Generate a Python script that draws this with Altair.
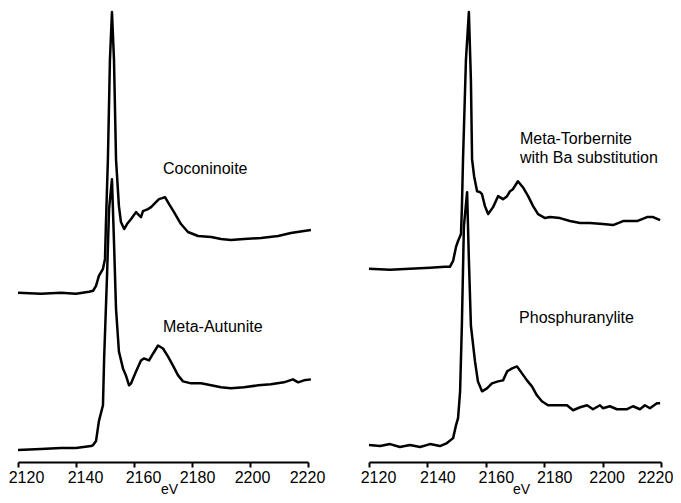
import altair as alt
import pandas as pd

# ---- data (energy in eV, normalized intensity with vertical offset) ----
coconinoite_ev = [2120.0, 2127.9, 2134.8, 2140.0, 2144.5, 2145.9, 2146.9, 2147.9, 2149.3, 2150.0,
                  2150.3, 2151.0, 2151.7, 2152.4, 2153.1, 2153.8, 2154.8, 2155.5, 2156.6, 2157.6,
                  2159.0, 2160.7, 2161.7, 2162.4, 2163.1, 2164.8, 2165.9, 2166.9, 2168.6, 2169.7,
                  2170.7, 2172.1, 2173.8, 2176.2, 2178.6, 2182.1, 2186.6, 2190.0, 2193.4, 2197.9,
                  2203.8, 2209.7, 2214.1, 2218.6, 2221.0]
coconinoite_int = [1.70, 1.69, 1.70, 1.69, 1.71, 1.72, 1.77, 1.87, 1.94, 2.04,
                   2.37, 3.04, 4.04, 4.52, 4.04, 3.04, 2.57, 2.41, 2.34, 2.39,
                   2.44, 2.51, 2.48, 2.46, 2.52, 2.54, 2.56, 2.59, 2.64, 2.65,
                   2.66, 2.59, 2.51, 2.39, 2.31, 2.27, 2.26, 2.24, 2.23, 2.24,
                   2.25, 2.27, 2.30, 2.32, 2.33]

autunite_ev = [2120.0, 2127.9, 2134.8, 2140.0, 2145.2, 2145.9, 2146.9, 2147.9, 2149.3, 2149.7,
               2150.7, 2151.4, 2152.4, 2153.1, 2153.8, 2154.8, 2156.2, 2157.2, 2158.3, 2159.0,
               2160.7, 2162.4, 2163.4, 2165.2, 2166.6, 2168.3, 2170.0, 2171.7, 2173.4, 2175.2,
               2176.9, 2179.7, 2183.1, 2186.6, 2190.0, 2193.4, 2197.9, 2202.8, 2207.2, 2211.7,
               2214.8, 2216.6, 2218.6, 2221.0]
autunite_int = [0.12, 0.13, 0.14, 0.14, 0.16, 0.17, 0.21, 0.41, 0.57, 1.04,
                1.87, 2.54, 2.84, 2.21, 1.54, 1.11, 0.94, 0.87, 0.77, 0.79,
                0.91, 1.02, 1.04, 1.02, 1.09, 1.17, 1.14, 1.06, 0.97, 0.87,
                0.81, 0.79, 0.79, 0.77, 0.75, 0.74, 0.75, 0.77, 0.78, 0.80,
                0.83, 0.80, 0.82, 0.83]

torbernite_ev = [2120.0, 2127.2, 2134.0, 2140.9, 2146.0, 2147.7, 2148.8, 2149.8, 2150.5, 2151.5,
                 2151.8, 2152.2, 2153.2, 2154.2, 2154.9, 2155.3, 2156.0, 2157.0, 2158.0, 2158.7,
                 2159.7, 2160.8, 2162.5, 2164.2, 2165.9, 2167.3, 2168.3, 2169.3, 2171.0, 2172.7,
                 2174.5, 2176.2, 2177.9, 2180.3, 2182.0, 2185.4, 2188.8, 2192.3, 2195.7, 2200.1,
                 2203.6, 2207.0, 2211.8, 2215.2, 2217.3, 2219.7]
torbernite_int = [1.94, 1.93, 1.94, 1.95, 1.96, 1.96, 2.02, 2.16, 2.22, 2.29,
                  2.54, 3.04, 4.04, 4.52, 3.84, 3.04, 2.87, 2.72, 2.71, 2.69,
                  2.57, 2.49, 2.56, 2.67, 2.64, 2.67, 2.72, 2.74, 2.82, 2.76,
                  2.67, 2.57, 2.49, 2.45, 2.46, 2.45, 2.42, 2.40, 2.40, 2.39,
                  2.38, 2.42, 2.42, 2.46, 2.46, 2.43]

phosph_ev = [2120.0, 2123.8, 2127.2, 2130.6, 2134.0, 2137.5, 2140.9, 2144.3, 2146.7, 2148.8,
             2149.8, 2150.5, 2151.2, 2151.8, 2152.5, 2153.6, 2154.2, 2154.9, 2156.3, 2157.3,
             2158.7, 2160.4, 2162.1, 2164.2, 2165.9, 2167.3, 2169.0, 2170.7, 2172.4, 2174.1,
             2175.8, 2177.5, 2179.2, 2181.3, 2184.7, 2187.8, 2189.9, 2192.3, 2194.7, 2196.7,
             2199.1, 2200.1, 2202.5, 2204.9, 2208.4, 2210.4, 2212.8, 2214.5, 2216.2, 2218.6,
             2219.7]
phosph_int = [0.17, 0.16, 0.18, 0.15, 0.17, 0.15, 0.18, 0.16, 0.19, 0.24,
              0.37, 0.44, 0.71, 1.37, 2.37, 2.71, 2.04, 1.37, 1.01, 0.81,
              0.71, 0.74, 0.79, 0.81, 0.82, 0.91, 0.94, 0.96, 0.89, 0.82,
              0.76, 0.67, 0.61, 0.57, 0.57, 0.57, 0.52, 0.55, 0.57, 0.53,
              0.57, 0.54, 0.56, 0.53, 0.53, 0.56, 0.53, 0.57, 0.54, 0.59,
              0.59]

label_panel = ["left", "left", "right", "right"]
label_text = ["Coconinoite", "Meta-Autunite", "Meta-Torbernite\nwith Ba substitution", "Phosphuranylite"]
label_ev = [2170.0, 2170.0, 2171.7, 2171.4]
label_int = [2.89, 1.31, 3.19, 1.40]

x_ticks = [2120, 2140, 2160, 2180, 2200, 2220]

# ---- build tables ----
def series(panel, name, ev, inten):
    return pd.DataFrame({"panel": panel, "series": name, "energy": ev, "intensity": inten})

spectra = pd.concat([
    series("left", "Coconinoite", coconinoite_ev, coconinoite_int),
    series("left", "Meta-Autunite", autunite_ev, autunite_int),
    series("right", "Meta-Torbernite", torbernite_ev, torbernite_int),
    series("right", "Phosphuranylite", phosph_ev, phosph_int),
], ignore_index=True)

labels = pd.DataFrame({"panel": label_panel, "text": label_text,
                       "energy": label_ev, "intensity": label_int})

FONT = "Liberation Sans"


def offsets(o2120, o2140, o2160, o2180, o2200, o2220):
    return {
        "condition": [
            {"test": "datum.value == 2120", "value": o2120},
            {"test": "datum.value == 2140", "value": o2140},
            {"test": "datum.value == 2160", "value": o2160},
            {"test": "datum.value == 2180", "value": o2180},
            {"test": "datum.value == 2200", "value": o2200},
        ],
        "value": o2220,
    }


def panel(name, width, label_offset):
    xscale = alt.Scale(domain=[2120, 2220], nice=False, zero=False)
    yscale = alt.Scale(domain=[0, 4.56], nice=False, zero=False)
    xaxis = alt.Axis(values=x_ticks, title="eV", grid=False, format="d",
                     labelFont=FONT, labelFontSize=16, labelColor="black",
                     labelPadding=2, labelOffset=label_offset, labelOverlap=False,
                     labelBound=False, labelFlush=False,
                     tickSize=5, tickWidth=2, tickColor="black",
                     domainColor="black", domainWidth=2,
                     titleFont=FONT, titleFontSize=14, titleFontWeight="normal",
                     titleColor="black", titlePadding=-3, titleX=width / 2 + 6)
    lines = alt.Chart(spectra).transform_filter(
        alt.datum.panel == name
    ).mark_line(color="black", strokeWidth=2.5, strokeJoin="round").encode(
        x=alt.X("energy:Q", scale=xscale, axis=xaxis),
        y=alt.Y("intensity:Q", scale=yscale, axis=None),
        detail="series:N",
    )
    text = alt.Chart(labels).transform_filter(
        alt.datum.panel == name
    ).mark_text(align="left", baseline="alphabetic", font=FONT, fontSize=16,
                color="black", lineBreak="\n", lineHeight=19).encode(
        x=alt.X("energy:Q", scale=xscale),
        y=alt.Y("intensity:Q", scale=yscale),
        text="text:N",
    )
    return alt.layer(lines, text).properties(width=width, height=454)


chart = alt.hconcat(
    panel("left", 290, offsets(8, 9, 9, 5, 2, -1)),
    panel("right", 292, offsets(9, 10, 10, 10, 4, -6)),
    spacing=61, bounds="flush",
).properties(
    padding={"left": 0, "top": 0, "right": 0, "bottom": 0}
).configure_view(stroke=None)

chart.save("out.html", embed_options={"renderer": "svg", "actions": False})
